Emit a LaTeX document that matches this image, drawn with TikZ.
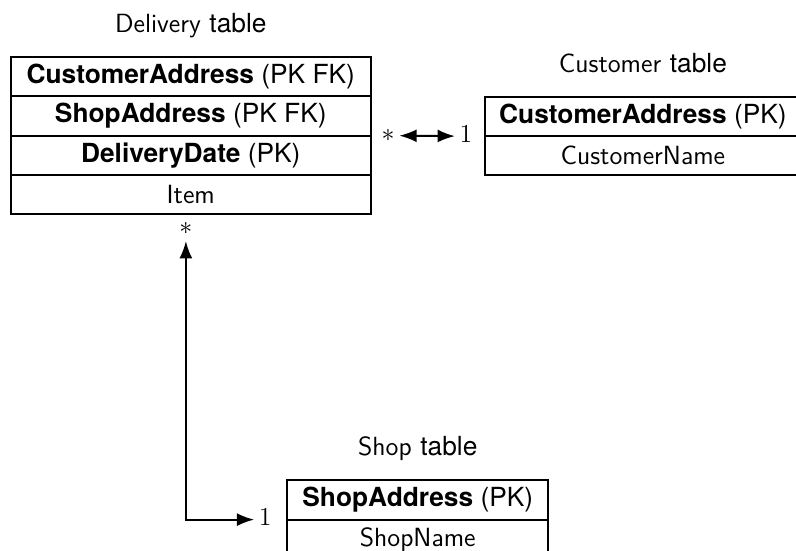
\documentclass[tikz,border=0pt]{standalone}
\usepackage{fontspec}
\newfontfamily\heros{TeX Gyre Heros}
\usetikzlibrary{arrows.meta,positioning}

% key field: bold name, key kind in brackets
\newcommand{\keyfld}[2]{{\heros\textbf{#1} (#2)}}
\newcommand{\tblname}[1]{{\sffamily #1} {\heros table}}
\newcommand{\tblfont}{\fontsize{12.2}{15}\selectfont}

\tikzset{
  arr/.style={-{Latex[length=8pt,width=6pt]},line width=0.9pt},
  darr/.style={{Latex[length=8pt,width=6pt]}-{Latex[length=8pt,width=6pt]},line width=0.9pt},
  fld/.style={rectangle,draw,line width=0.9pt,minimum height=0.64cm,
    outer sep=0pt,inner sep=0pt,font=\tblfont\sffamily},
  ttl/.style={font=\tblfont\sffamily,text height=1.6ex,text depth=0.5ex},
  card/.style={inner sep=2pt,text height=1.5ex,text depth=0.25ex,font=\tblfont},
}

\begin{document}
\begin{tikzpicture}
\path[use as bounding box,clip] (0,0) rectangle (12.975,-8.981);

% DELIVERY (left-top)
\node[fld,minimum width=5.87cm,anchor=north] (D1) at (3.11,-0.93) {\keyfld{CustomerAddress}{PK FK}};
\node[fld,minimum width=5.87cm,below=0pt of D1] (D2) {\keyfld{ShopAddress}{PK FK}};
\node[fld,minimum width=5.87cm,below=0pt of D2] (D3) {\keyfld{DeliveryDate}{PK}};
\node[fld,minimum width=5.87cm,below=0pt of D3] (D4) {Item};
\node[ttl,above=0.2cm of D1] (Dt) {\tblname{Delivery}};

% CUSTOMER (right-top)
\node[fld,minimum width=5.15cm,anchor=north] (C1) at (10.48,-1.58) {\keyfld{CustomerAddress}{PK}};
\node[fld,minimum width=5.15cm,below=0pt of C1] (C2) {CustomerName};
\node[ttl,above=0.2cm of C1] (Ct) {\tblname{Customer}};

% SHOP (bottom)
\node[fld,minimum width=4.25cm,anchor=north] (S1) at (6.81,-7.83) {\keyfld{ShopAddress}{PK}};
\node[fld,minimum width=4.25cm,below=0pt of S1] (S2) {ShopName};
\node[ttl,above=0.2cm of S1] (St) {\tblname{Shop}};

% Cardinalities
\node[card,right=0.1cm of D2.south east] (Dc) {$*$};
\node[card,left=0.13cm of C1.south west] (Cc) {$1$};
\node[card] (Dm) at (3.03,-3.72) {$*$};
\node[card,left=0.18cm of S1.south west] (Sc) {$1$};

% Relations
\draw[darr] (Dc) -- (Cc);
\draw[darr] (Dm) |- (Sc);
\end{tikzpicture}
\end{document}
